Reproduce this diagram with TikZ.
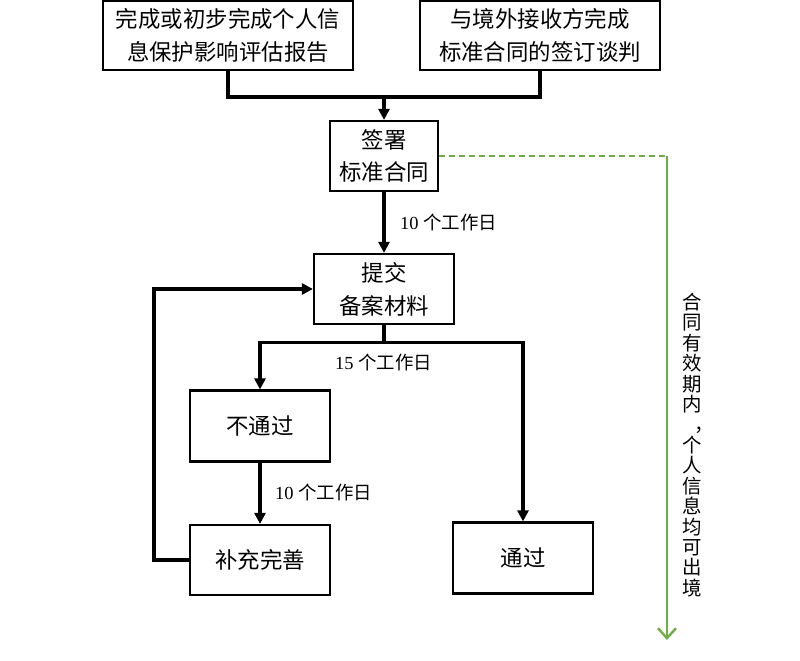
\documentclass[tikz,border=0pt]{standalone}
\usepackage{fontspec}
\setmainfont{Liberation Serif}
\newfontfamily\cjk{Noto Sans CJK SC}
\usetikzlibrary{arrows.meta}
\definecolor{grn}{HTML}{70AD47}
\begin{document}
\begin{tikzpicture}[x=1bp,y=-1bp,
  box/.style={draw=black,line width=2.2bp,rectangle,align=center,inner sep=0pt,
    font=\cjk\fontsize{22.5}{33}\selectfont},
  conn/.style={line width=3.2bp,draw=black},
  arr/.style={conn,-{Triangle[length=11bp,width=11bp]}},
  lbl/.style={anchor=west,inner sep=0pt,font=\fontsize{18.5}{20}\selectfont},
  gline/.style={draw=grn,line width=2.4bp}]
\useasboundingbox (0,0) rectangle (800,661);
\node[box,minimum width=250bp,minimum height=69bp] (A) at (228,35.5) {完成或初步完成个人信\\息保护影响评估报告};
\node[box,minimum width=240bp,minimum height=69bp] (B) at (540,35.5) {与境外接收方完成\\标准合同的签订谈判};
\node[box,minimum width=108bp,minimum height=70bp] (C) at (384,156) {签署\\标准合同};
\node[box,minimum width=140bp,minimum height=70bp] (D) at (384,289) {提交\\备案材料};
\node[box,minimum width=140bp,minimum height=71bp] (E) at (260,426) {不通过};
\node[box,minimum width=140bp,minimum height=70bp] (F) at (260,560) {补充完善};
\node[box,minimum width=140bp,minimum height=71bp] (G) at (523,558) {通过};
% top join
\draw[conn] (A.south) -- ++(0,26) coordinate (ja) -| (B.south);
\coordinate (j) at (C.north |- ja);
\draw[arr] (j) -- (C.north);
\draw[arr] (C.south) -- (D.north);
\node[lbl] (l1) at (400,222) {10 {\cjk 个工作日}};
% split
\draw[conn] (D.south) -- ++(0,17) coordinate (s);
\draw[arr] (s) -| (E.north);
\draw[arr] (s) -| (G.north);
\node[lbl] (l2) at (335,362) {15 {\cjk 个工作日}};
\draw[arr] (E.south) -- (F.north);
\node[lbl] (l3) at (275,492) {10 {\cjk 个工作日}};
% feedback
\draw[arr] (F.west) -- ++(-35,0) |- (D.west);
% green
\draw[gline,dashed,dash pattern=on 6bp off 4bp] (C.east) -- (667,156) coordinate (g);
\coordinate (gend) at (667,640);
\draw[gline,-{Straight Barb[length=10bp,width=18bp,line width=2.4bp]}] (g) -- (gend);
\node[align=center,inner sep=0pt,font=\cjk\fontsize{19.5}{20.5}\selectfont] (V) at (692,445)
 {合\\同\\有\\效\\期\\内\\\makebox[1em][l]{\hspace{0.65em}，}\\个\\人\\信\\息\\均\\可\\出\\境};
\end{tikzpicture}
\end{document}
